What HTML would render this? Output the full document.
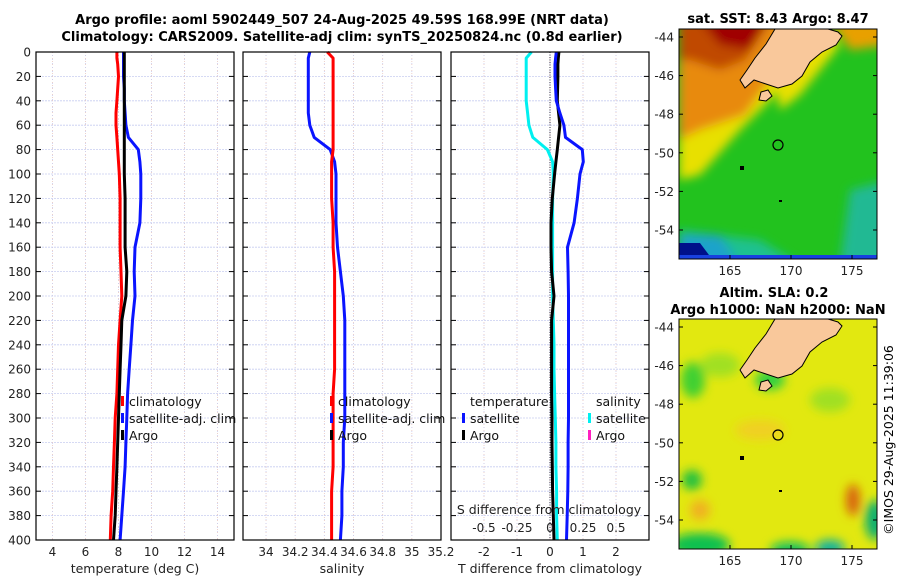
<!DOCTYPE html>
<html><head><meta charset="utf-8"><style>
body{margin:0;background:#fff;width:900px;height:580px;overflow:hidden}
svg{font-family:"DejaVu Sans","Liberation Sans",sans-serif}
</style></head><body>
<svg id="fig" width="900" height="580" viewBox="0 0 900 580">
<defs>
<filter id="blur" x="-20%" y="-20%" width="140%" height="140%"><feGaussianBlur stdDeviation="5"/></filter>
<clipPath id="c1"><rect x="679" y="29" width="198" height="230"/></clipPath>
<clipPath id="c2"><rect x="679" y="319" width="198" height="230"/></clipPath>
</defs>
<text x="342" y="24" font-size="13" font-weight="bold" text-anchor="middle">Argo profile: aoml 5902449_507 24-Aug-2025 49.59S 168.99E (NRT data)</text>
<text x="342" y="41" font-size="13" font-weight="bold" text-anchor="middle">Climatology: CARS2009. Satellite-adj clim: synTS_20250824.nc (0.8d earlier)</text>
<g id="panels"></g>
<!-- map 1 -->
<g>
<text x="778" y="23" font-size="13" font-weight="bold" text-anchor="middle">sat. SST: 8.43 Argo: 8.47</text>
<g clip-path="url(#c1)">
<rect x="679" y="29" width="198" height="230" fill="#22c21e"/>
<g filter="url(#blur)">
<polygon points="679,20 800,20 790,70 770,100 740,130 700,175 679,180" fill="#e8e000"/>
<polygon points="679,20 790,20 770,80 745,115 700,130 679,140" fill="#e88a10"/>
<polygon points="679,20 770,20 745,60 720,70 690,60 679,60" fill="#c04a00"/>
<polygon points="700,20 770,20 750,50 720,45" fill="#a00000"/>
<polygon points="830,20 890,20 890,45 850,50" fill="#e8a000"/>
<polygon points="770,60 830,30 840,45 800,95 780,110" fill="#e8e000"/>
<polygon points="679,235 720,235 740,265 679,265" fill="#1060e0"/>
<polygon points="679,230 760,240 800,265 679,265" fill="#20c0c0" opacity="0.7"/>
<polygon points="850,190 890,180 890,265 840,265" fill="#20b8b0" opacity="0.8"/>
</g>
<polygon points="679,243 700,243 712,259 679,259" fill="#00108a"/>
<rect x="679" y="255" width="198" height="4" fill="#1840e0"/>
</g>
<g id="land1">
<polygon points="775,29 828,29 838,32 842,36 836,45 822,52 810,62 802,76 792,84 778,88 766,84 754,80 745,88 740,80 747,70 755,58 766,44" fill="#f9c89b" stroke="#000" stroke-width="1"/>
<polygon points="761,92 768,90 772,96 766,101 759,100" fill="#f9c89b" stroke="#000" stroke-width="1"/>
</g>
<circle cx="778" cy="145" r="5" fill="none" stroke="#000" stroke-width="1.2"/>
<rect x="740" y="166" width="4" height="4" fill="#000"/>
<rect x="779" y="200" width="3" height="2" fill="#000"/>
<rect x="679" y="29" width="198" height="230" fill="none" stroke="#000" stroke-width="1"/>
</g>
<!-- map 2 -->
<g>
<text x="774" y="297" font-size="13" font-weight="bold" text-anchor="middle">Altim. SLA: 0.2</text>
<text x="778" y="314" font-size="13" font-weight="bold" text-anchor="middle">Argo h1000: NaN h2000: NaN</text>
<g clip-path="url(#c2)">
<rect x="679" y="319" width="198" height="230" fill="#e2e810"/>
<g filter="url(#blur)">
<ellipse cx="693" cy="380" rx="12" ry="18" fill="#40d030"/>
<ellipse cx="720" cy="365" rx="20" ry="12" fill="#a0e020"/>
<ellipse cx="692" cy="480" rx="10" ry="10" fill="#20c040"/>
<ellipse cx="700" cy="510" rx="10" ry="10" fill="#f0b020"/>
<ellipse cx="853" cy="500" rx="7" ry="16" fill="#d86010"/>
<ellipse cx="830" cy="400" rx="20" ry="12" fill="#a0e020"/>
<ellipse cx="760" cy="430" rx="25" ry="10" fill="#f0d020"/>
<ellipse cx="700" cy="545" rx="30" ry="12" fill="#10c050"/>
<ellipse cx="790" cy="550" rx="20" ry="8" fill="#10c060"/>
<ellipse cx="830" cy="548" rx="15" ry="8" fill="#10b0a0"/>
<ellipse cx="875" cy="520" rx="10" ry="20" fill="#10b070"/>
<ellipse cx="770" cy="380" rx="15" ry="10" fill="#30d040"/>
</g>
</g>
<g transform="translate(0,290)">
<polygon points="775,29 828,29 838,32 842,36 836,45 822,52 810,62 802,76 792,84 778,88 766,84 754,80 745,88 740,80 747,70 755,58 766,44" fill="#f9c89b" stroke="#000" stroke-width="1"/>
<polygon points="761,92 768,90 772,96 766,101 759,100" fill="#f9c89b" stroke="#000" stroke-width="1"/>
<circle cx="778" cy="145" r="5" fill="none" stroke="#000" stroke-width="1.2"/>
<rect x="740" y="166" width="4" height="4" fill="#000"/>
<rect x="779" y="200" width="3" height="2" fill="#000"/>
</g>
<rect x="679" y="319" width="198" height="230" fill="none" stroke="#000" stroke-width="1"/>
</g>
<g id="maxes"></g>
<text transform="translate(893,440) rotate(-90)" font-size="12.5" text-anchor="middle">©IMOS 29-Aug-2025 11:39:06</text>
</svg>
<script>
const depths=[0,5,10,20,30,40,50,60,70,80,90,100,120,140,160,180,200,220,240,260,280,300,320,340,360,380,400];
const tempClim=[7.9,7.9,7.95,8.0,7.95,7.9,7.85,7.85,7.9,7.95,8.0,8.05,8.1,8.1,8.1,8.15,8.2,8.1,8.0,7.95,7.9,7.8,7.75,7.7,7.65,7.55,7.5];
const tempArgo=[8.35,8.35,8.35,8.35,8.35,8.35,8.35,8.35,8.35,8.35,8.35,8.35,8.4,8.4,8.4,8.5,8.45,8.2,8.15,8.1,8.05,8.0,7.95,7.9,7.85,7.8,7.7];
const tempSat=[8.3,8.3,8.3,8.3,8.35,8.35,8.4,8.45,8.6,9.2,9.3,9.35,9.35,9.3,9.0,8.95,9.0,8.85,8.75,8.65,8.55,8.5,8.45,8.4,8.3,8.2,8.1];
const salClim=[34.42,34.46,34.46,34.46,34.46,34.46,34.46,34.46,34.46,34.46,34.45,34.45,34.45,34.46,34.46,34.47,34.47,34.47,34.47,34.47,34.46,34.46,34.46,34.46,34.45,34.45,34.45];
const salSat=[34.30,34.29,34.29,34.29,34.29,34.29,34.29,34.30,34.33,34.44,34.47,34.48,34.48,34.48,34.49,34.51,34.53,34.54,34.54,34.54,34.54,34.54,34.53,34.53,34.52,34.52,34.51];
const tDiffSat=[0.19,0.17,0.15,0.15,0.17,0.19,0.3,0.42,0.47,0.98,1.01,0.91,0.83,0.73,0.53,0.55,0.56,0.56,0.56,0.56,0.56,0.56,0.55,0.55,0.54,0.52,0.5];
const tDiffArgo=[0.27,0.25,0.24,0.24,0.23,0.22,0.26,0.3,0.26,0.22,0.18,0.14,0.07,0.03,0.03,0.05,0.12,0.05,0.05,0.05,0.05,0.06,0.06,0.07,0.08,0.1,0.12];
const sDiffSat=[-0.14,-0.18,-0.18,-0.18,-0.18,-0.18,-0.17,-0.16,-0.13,-0.02,0.02,0.025,0.02,0.02,0.02,0.02,0.02,0.025,0.03,0.03,0.035,0.04,0.045,0.045,0.05,0.05,0.055];
const depthTicks=[0,20,40,60,80,100,120,140,160,180,200,220,240,260,280,300,320,340,360,380,400];
const tTicks=[4,6,8,10,12,14];
const sTicks=[34,34.2,34.4,34.6,34.8,35,35.2];
const dTTicks=[-2,-1,0,1,2];
const dSTicks=[-0.5,-0.25,0,0.25,0.5];
const dSLabels=["-0.5","-0.25","0","0.25","0.5"];
const lonTicks=[165,170,175];
const latTicks=[-44,-46,-48,-50,-52,-54];

const NS="http://www.w3.org/2000/svg";
const root=document.getElementById('panels');
function mk(tag,attrs,parent,text){const e=document.createElementNS(NS,tag);for(const k in attrs)e.setAttribute(k,attrs[k]);if(text!==undefined)e.textContent=text;(parent||root).appendChild(e);return e;}
const Y0=52,Y1=540;
const yD=d=>Y0+(d/400)*(Y1-Y0);
function lin(d0,d1,r0,r1){return v=>r0+(v-d0)/(d1-d0)*(r1-r0);}
const panels=[
 {x0:36,x1:234,sc:lin(3,15,36,234),ticks:tTicks,lab:tTicks.map(String),xl:'temperature (deg C)',name:'temperature'},
 {x0:243,x1:441,sc:lin(33.842,35.2,243,441),ticks:sTicks,lab:sTicks.map(String),xl:'salinity',name:'salinity'},
 {x0:451,x1:649,sc:lin(-3,3,451,649),ticks:dTTicks,lab:dTTicks.map(String),xl:'T difference from climatology',name:'difference'}
];
panels.forEach((p,i)=>{
 const g=mk('g',{});
 
 
 depthTicks.forEach(d=>{mk('line',{x1:p.x0,x2:p.x1,y1:yD(d),y2:yD(d),stroke:'#c8cdf0','stroke-dasharray':'2,1','stroke-width':0.8},g);});
 p.ticks.forEach(t=>{const x=p.sc(t);mk('line',{x1:x,x2:x,y1:Y0,y2:Y1,stroke:'#e8c8c0','stroke-dasharray':'1,2','stroke-width':0.8},g);
  mk('line',{x1:x,x2:x,y1:Y0,y2:Y1,stroke:'#c8cdf0','stroke-dasharray':'1,3','stroke-dashoffset':1,'stroke-width':0.8},g);});
 depthTicks.forEach(d=>{const y=yD(d);mk('line',{x1:p.x0,x2:p.x0+5,y1:y,y2:y,stroke:'#000'},g);mk('line',{x1:p.x1-5,x2:p.x1,y1:y,y2:y,stroke:'#000'},g);
  if(i===0){const t=mk('text',{x:p.x0-5,y:y+4.5,'font-size':12,'text-anchor':'end',fill:'#222'},g,String(d));}});
 p.ticks.forEach((t,j)=>{const x=p.sc(t);const e=mk('text',{x:x,y:556,'font-size':12,'text-anchor':'middle',fill:'#222'},g,p.lab[j]);});
 const xl=mk('text',{x:(p.x0+p.x1)/2,y:573,'font-size':12.5,'text-anchor':'middle',fill:'#222'},g,p.xl);
 
 
});
function line(arr,sc,col,name,w){
 const pts=arr.map((v,k)=>sc(v).toFixed(1)+','+yD(depths[k]).toFixed(1)).join(' ');
 const e=mk('polyline',{points:pts,fill:'none',stroke:col,'stroke-width':w||3,'stroke-linejoin':'round'});
 
 
}
const P=panels;
const zl=mk('line',{x1:P[2].sc(0),x2:P[2].sc(0),y1:Y0,y2:Y1,stroke:'#334',"stroke-dasharray":'1,1.5','stroke-width':1});


line(tempSat,P[0].sc,'#0a14ff','temp-satellite-line');
line(tempClim,P[0].sc,'#ff0000','temp-climatology-line');
line(tempArgo,P[0].sc,'#000','temp-argo-line');
line(salSat,P[1].sc,'#0a14ff','sal-satellite-line');
line(salClim,P[1].sc,'#ff0000','sal-climatology-line');
const sdsc=v=>P[2].sc(v*4);
line(sDiffSat,sdsc,'#00f0f0','sal-diff-satellite-line');
line(tDiffArgo,P[2].sc,'#000','temp-diff-argo-line');
line(tDiffSat,P[2].sc,'#0a14ff','temp-diff-satellite-line');
const st=mk('text',{x:549,y:514,'font-size':12.5,'text-anchor':'middle',fill:'#222'},root,'S difference from climatology');


dSTicks.forEach((t,j)=>{const e=mk('text',{x:sdsc(t),y:532,'font-size':12,'text-anchor':'middle',fill:'#222'},root,dSLabels[j]);});
P.forEach(p=>{mk('rect',{x:p.x0,y:Y0,width:p.x1-p.x0,height:Y1-Y0,fill:'none',stroke:'#000','stroke-width':1.2});});
function leg(x,y,col,txt,name){
 const g=mk('g',{});
 
 
 if(col)mk('rect',{x:x-8,y:y-9,width:3,height:10,fill:col},g);
 mk('text',{x:x,y:y+1,'font-size':12.5,fill:'#111'},g,txt);
}
leg(129,405,'#ff0000','climatology','legend-entry-climatology');
leg(129,422,'#0a14ff','satellite-adj. clim','legend-entry-satellite');
leg(129,439,'#000','Argo','legend-entry-argo');
leg(338,405,'#ff0000','climatology','legend-entry-climatology');
leg(338,422,'#0a14ff','satellite-adj. clim','legend-entry-satellite');
leg(338,439,'#000','Argo','legend-entry-argo');
leg(470,405,null,'temperature','legend-header-temperature');
leg(470,422,'#0a14ff','satellite','legend-entry-t-satellite');
leg(470,439,'#000','Argo','legend-entry-t-argo');
leg(596,405,null,'salinity','legend-header-salinity');
leg(596,422,'#00f0f0','satellite','legend-entry-s-satellite');
leg(596,439,'#ff20c0','Argo','legend-entry-s-argo');
const mx=document.getElementById('maxes');
const lonX=lin(165,175,730,852);
const latY=lin(-44,-54,37,230);
[[29,259],[319,549]].forEach(([t,b],m)=>{
 const off=m===0?0:290;
 lonTicks.forEach(l=>{const x=lonX(l);mk('line',{x1:x,x2:x,y1:b,y2:b-4,stroke:'#000'},mx);
  const e=mk('text',{x:x,y:b+16,'font-size':12,'text-anchor':'middle',fill:'#222'},mx,String(l));});
 latTicks.forEach(l=>{const y=latY(l)+off;mk('line',{x1:679,x2:683,y1:y,y2:y,stroke:'#000'},mx);mk('line',{x1:873,x2:877,y1:y,y2:y,stroke:'#000'},mx);
  const e=mk('text',{x:674,y:y+4.5,'font-size':12,'text-anchor':'end',fill:'#222'},mx,String(l));});
});
</script>
</body></html>
